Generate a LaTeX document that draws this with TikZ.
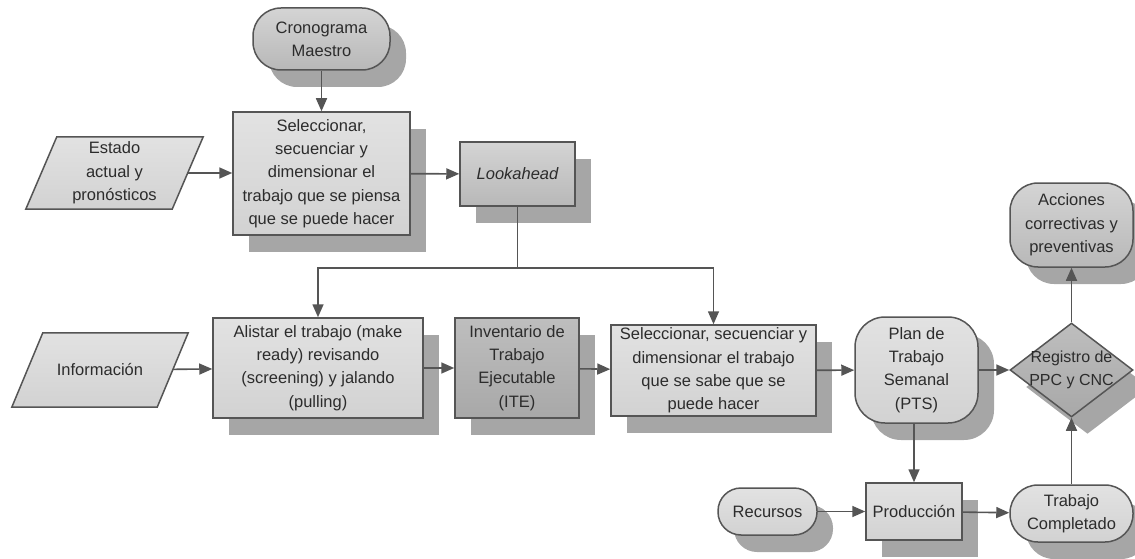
\documentclass[tikz,border=0pt]{standalone}
\usepackage{fontspec}
\setmainfont{Liberation Sans}
\usetikzlibrary{shapes.geometric,shadows,arrows.meta,calc,backgrounds}

\definecolor{edgegray}{HTML}{555555}
\definecolor{inkgray}{HTML}{2C2C2C}
\definecolor{shadowgray}{HTML}{A6A6A6}
\definecolor{paleA}{HTML}{E2E2E2}
\definecolor{paleB}{HTML}{D2D2D2}
\definecolor{midA}{HTML}{D4D4D4}
\definecolor{midB}{HTML}{B8B8B8}
\definecolor{darkA}{HTML}{BEBEBE}
\definecolor{darkB}{HTML}{A8A8A8}

\tikzset{
  txt/.style={text=inkgray, align=center, inner sep=0pt,
    font=\fontsize{16.5}{23.3}\selectfont},
  base/.style={txt, draw=edgegray, line width=1.5pt,
    drop shadow={shadow xshift=16pt, shadow yshift=-17pt, fill=shadowgray, opacity=1}},
  pale/.style={top color=paleA, bottom color=paleB},
  mid/.style={top color=midA, bottom color=midB},
  dark/.style={top color=darkA, bottom color=darkB},
  boxnode/.style={base, rectangle},
  pill/.style={base, rectangle, rounded corners=#1},
  decision/.style={base, diamond},
  plain/.style={txt, rectangle},
  flow/.style={draw=edgegray, line width=1.6pt,
    -{Triangle[length=13pt,width=11pt]}},
  line/.style={draw=edgegray, line width=1.6pt},
  slantshape/.style={draw=edgegray, line width=1.5pt, top color=paleA, bottom color=paleB},
  slantshadow/.style={fill=shadowgray},
}

\begin{document}
\begin{tikzpicture}[x=1pt,y=-1pt]
\useasboundingbox (0,0) rectangle (1135,559);

% upper chain
\node[pill=28pt, mid, minimum width=137pt, minimum height=62pt] (cron) at (321.5,39) {Cronograma\\Maestro};
\node[boxnode, pale, minimum width=177pt, minimum height=123pt] (sel1) at (321.5,173.5)
  {Seleccionar,\\secuenciar y\\dimensionar el\\trabajo que se piensa\\que se puede hacer};
\node[boxnode, mid, minimum width=115pt, minimum height=64pt] (look) at (517.5,174) {\itshape Lookahead};
\node[plain, minimum width=146pt, minimum height=72pt] (estado) at (114.5,173) {Estado\\actual y\\pronósticos};

% middle chain
\node[plain, minimum width=145pt, minimum height=74pt] (info) at (100,370) {Información};
\node[boxnode, pale, minimum width=210pt, minimum height=100pt] (alist) at (318,368)
  {Alistar el trabajo (make\\ready) revisando\\(screening) y jalando\\(pulling)};
\node[boxnode, dark, minimum width=124pt, minimum height=100pt] (ite) at (517,368)
  {Inventario de\\Trabajo\\Ejecutable\\(ITE)};
\node[boxnode, pale, minimum width=205pt, minimum height=91pt] (sel2) at (713.5,370.5)
  {Seleccionar, secuenciar y\\dimensionar el trabajo\\que se sabe que se\\puede hacer};
\node[pill=30pt, pale, minimum width=123pt, minimum height=106pt] (pts) at (916.5,370)
  {Plan de\\Trabajo\\Semanal\\(PTS)};
\node[decision, dark, minimum width=123pt, minimum height=94pt] (reg) at (1071.5,370) {};
\node[txt, font=\fontsize{16}{23}\selectfont] (regtext) at (reg.center) {Registro de\\PPC y CNC};
\node[pill=28pt, mid, minimum width=123pt, minimum height=84pt] (acc) at (1071.5,225)
  {Acciones\\correctivas y\\preventivas};

% lower chain
\node[pill=23pt, pale, minimum width=99pt, minimum height=47pt] (rec) at (767.5,511.5) {Recursos};
\node[boxnode, pale, minimum width=96pt, minimum height=57pt] (prod) at (914,511.5) {Producción};
\node[pill=28pt, pale, minimum width=123pt, minimum height=57pt] (trab) at (1071.5,513.5)
  {Trabajo\\Completado};

% slanted input shapes, behind their labels
\begin{scope}[on background layer]
  \foreach \n in {estado,info}{
    \fill[slantshadow, shift={(16,17)}]
      ($(\n.north west)+(15.5,0)$) -- ($(\n.north east)+(15.5,0)$) --
      ($(\n.south east)+(-15.5,0)$) -- ($(\n.south west)+(-15.5,0)$) -- cycle;
    \path[slantshape]
      ($(\n.north west)+(15.5,0)$) -- ($(\n.north east)+(15.5,0)$) --
      ($(\n.south east)+(-15.5,0)$) -- ($(\n.south west)+(-15.5,0)$) -- cycle;
  }
\end{scope}

% connectors
\coordinate (split) at (517.5,268);
\draw[flow] (cron) -- (sel1);
\draw[flow] (estado.east) -- (estado.east -| sel1.west);
\draw[flow] (sel1) -- (look);
\draw[line] (look) -- (split);
\draw[flow] (split) -| (alist.north);
\draw[flow] (split) -| (sel2.north);
\draw[flow] (info) -- (alist);
\draw[flow] (alist) -- (ite);
\draw[flow] (ite) -- (sel2);
\draw[flow] (sel2) -- (pts);
\draw[flow] (pts) -- (reg);
\draw[flow] (reg) -- (acc);
\draw[flow] (pts.south -| prod.north) -- (prod.north);
\draw[flow] (rec) -- (prod);
\draw[flow] (prod) -- (trab);
\draw[flow] (trab) -- (reg);
\end{tikzpicture}
\end{document}
